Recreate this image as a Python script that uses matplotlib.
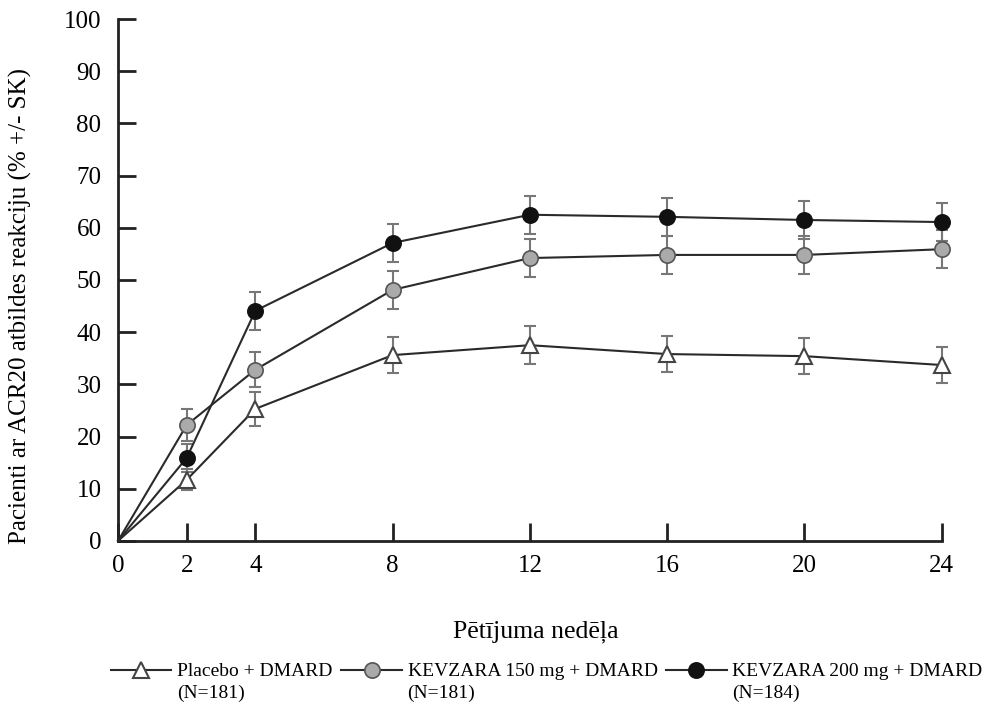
# ACR20 response over study weeks

import matplotlib.pyplot as plt

plt.rcParams["font.family"] = ["Liberation Serif", "DejaVu Serif"]

weeks = [0, 2, 4, 8, 12, 16, 20, 24]

placebo = [0, 11.7, 25.3, 35.6, 37.5, 35.8, 35.4, 33.7]
placebo_err = [0, 2.0, 3.2, 3.5, 3.6, 3.5, 3.5, 3.4]

kev150 = [0, 22.2, 32.8, 48.1, 54.2, 54.8, 54.8, 55.9]
kev150_err = [0, 3.0, 3.4, 3.6, 3.7, 3.7, 3.7, 3.7]

kev200 = [0, 15.9, 44.1, 57.1, 62.5, 62.1, 61.5, 61.1]
kev200_err = [0, 2.7, 3.6, 3.6, 3.6, 3.6, 3.6, 3.6]

names = ["Placebo + DMARD", "KEVZARA 150 mg + DMARD", "KEVZARA 200 mg + DMARD"]
counts = ["(N=181)", "(N=181)", "(N=184)"]

fig = plt.figure(figsize=(9.84, 7.07), dpi=100)
ax = fig.add_axes([0.12, 0.235, 0.837, 0.738])

err_style = dict(ecolor="#777777", elinewidth=1.5, capsize=4, capthick=1.5,
                 zorder=2, clip_on=False)

# error bars first (only for weeks > 0)
for vals, errs in [(placebo, placebo_err), (kev150, kev150_err), (kev200, kev200_err)]:
    ax.errorbar(weeks[1:], vals[1:], yerr=errs[1:], fmt="none", **err_style)

mk = list(range(1, 8))
l1, = ax.plot(weeks, placebo, "-", color="#2a2a2a", lw=1.5, zorder=3, clip_on=False,
              marker="^", markevery=mk, ms=11, mfc="white", mec="#444444", mew=1.5)
l2, = ax.plot(weeks, kev150, "-", color="#2a2a2a", lw=1.5, zorder=3, clip_on=False,
              marker="o", markevery=mk, ms=11, mfc="#aaaaaa", mec="#555555", mew=1.2)
l3, = ax.plot(weeks, kev200, "-", color="#2a2a2a", lw=1.5, zorder=3, clip_on=False,
              marker="o", markevery=mk, ms=11, mfc="#111111", mec="#111111", mew=1.2)

ax.set_xlim(0, 24)
ax.set_ylim(0, 100)
ax.set_xticks([0, 2, 4, 8, 12, 16, 20, 24])
ax.set_yticks(range(0, 101, 10))
ax.spines["top"].set_visible(False)
ax.spines["right"].set_visible(False)
for s in ["left", "bottom"]:
    ax.spines[s].set_linewidth(2)
    ax.spines[s].set_color("#222222")
ax.tick_params(direction="in", length=13, width=2, color="#222222",
               labelsize=18)
ax.tick_params(axis="x", pad=10)
ax.tick_params(axis="y", pad=12)

ax.set_ylabel("Pacienti ar ACR20 atbildes reakciju (% +/- SK)", fontsize=18)
ax.yaxis.set_label_coords(-0.105, 0.45)
fig.text(0.545, 0.098, "Pētījuma nedēļa", ha="center", fontsize=18.5)

leg = fig.legend([l1, l2, l3], names, loc="center left", bbox_to_anchor=(0.113, 0.05),
                 ncol=3, frameon=False, fontsize=14, handlelength=3.1, handletextpad=0.3,
                 columnspacing=0.45, borderaxespad=0, borderpad=0)

# second line of each legend entry, under its first line
fig.canvas.draw()
inv = fig.transFigure.inverted()
for t, n in zip(leg.get_texts(), counts):
    bb = t.get_window_extent().transformed(inv)
    fig.text(bb.x0, bb.y0 - 0.006, n, fontsize=14, ha="left", va="top")

fig.savefig("out.png", dpi=100)
